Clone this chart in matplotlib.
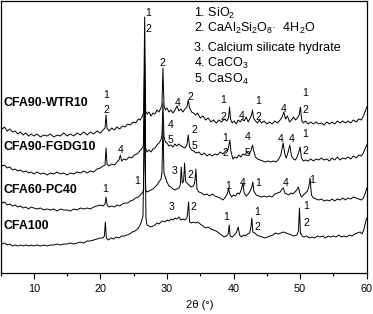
"""XRD patterns of the CFA blends, stacked with offsets."""

import matplotlib

matplotlib.use("Agg")
import matplotlib.pyplot as plt
from matplotlib.ticker import MultipleLocator

matplotlib.rcParams["font.family"] = ["Liberation Sans", "DejaVu Sans"]
matplotlib.rcParams["mathtext.fontset"] = "custom"
matplotlib.rcParams["mathtext.rm"] = "Liberation Sans"
matplotlib.rcParams["mathtext.it"] = "Liberation Sans:italic"

# 2theta (deg) and offset intensity (a.u.)
tt_wtr = [5.0, 5.3, 5.6, 6.0, 6.4, 6.8, 7.2, 7.6, 8.0, 8.4, 8.8, 9.2, 9.6, 10.0, 10.5, 11.0, 11.5, 12.0,
          12.5, 13.0, 13.5, 14.0, 14.5, 15.0, 15.5, 16.0, 16.5, 17.0, 17.5, 18.0, 18.5, 19.0, 19.5, 20.0,
          20.4, 20.7, 20.85, 21.0, 21.3, 21.7, 22.1, 22.5, 22.9, 23.3, 23.7, 24.1, 24.5, 24.9, 25.3, 25.7,
          26.0, 26.3, 26.5, 26.65, 26.8, 27.0, 27.3, 27.6, 27.9, 28.2, 28.5, 28.8, 29.1, 29.25, 29.4, 29.55,
          29.75, 30.0, 30.3, 30.6, 30.9, 31.2, 31.5, 31.8, 32.1, 32.4, 32.7, 33.0, 33.2, 33.4, 33.7, 34.0,
          34.3, 34.6, 35.0, 35.4, 35.8, 36.2, 36.6, 37.0, 37.4, 37.8, 38.2, 38.6, 39.0, 39.25, 39.4, 39.55,
          39.8, 40.1, 40.4, 40.7, 41.0, 41.3, 41.6, 41.9, 42.2, 42.5, 42.7, 42.85, 43.0, 43.3, 43.6, 43.9,
          44.2, 44.6, 45.0, 45.4, 45.8, 46.2, 46.6, 47.0, 47.3, 47.55, 47.8, 48.1, 48.4, 48.7, 49.0, 49.3,
          49.6, 49.85, 50.05, 50.25, 50.5, 50.8, 51.2, 51.6, 52.0, 52.4, 52.8, 53.2, 53.6, 54.0, 54.4, 54.8,
          55.2, 55.6, 56.0, 56.4, 56.8, 57.2, 57.6, 58.0, 58.4, 58.8, 59.2, 59.5, 59.8, 60.0]
i_wtr = [147, 144, 146, 142, 144, 141, 142, 139, 141, 138, 140, 137, 139, 137, 139, 136, 138, 137,
         139, 136, 138, 137, 140, 137, 139, 137, 140, 138, 141, 138, 141, 139, 142, 140,
         143, 145, 158, 145, 142, 145, 143, 146, 144, 147, 146, 149, 148, 151, 150, 154,
         153, 157, 160, 256, 162, 159, 161, 157, 160, 159, 163, 161, 165, 168, 205, 168,
         163, 165, 161, 163, 160, 163, 167, 162, 164, 161, 164, 166, 173, 165, 161, 160,
         158, 160, 155, 157, 153, 155, 151, 153, 150, 153, 151, 154, 152, 155, 166, 154,
         150, 152, 149, 153, 151, 154, 152, 156, 151, 155, 158, 163, 155, 152, 150, 153,
         150, 152, 149, 151, 149, 152, 150, 153, 156, 161, 154, 157, 151, 153, 156, 153,
         155, 158, 166, 152, 150, 152, 149, 151, 149, 151, 149, 150, 148, 151, 149, 151,
         149, 152, 150, 152, 150, 152, 150, 153, 151, 154, 153, 157, 162, 166]

tt_fgd = [5.0, 5.3, 5.6, 6.0, 6.4, 6.8, 7.2, 7.6, 8.0, 8.4, 8.8, 9.2, 9.6, 10.0, 10.5, 11.0, 11.5, 12.0,
          12.5, 13.0, 13.5, 14.0, 14.5, 15.0, 15.5, 16.0, 16.5, 17.0, 17.5, 18.0, 18.5, 19.0, 19.5, 20.0,
          20.4, 20.7, 20.85, 21.0, 21.3, 21.7, 22.1, 22.5, 22.8, 23.0, 23.2, 23.5, 23.9, 24.3, 24.7, 25.1,
          25.5, 25.9, 26.2, 26.45, 26.65, 26.8, 27.0, 27.3, 27.6, 27.9, 28.2, 28.5, 28.8, 29.1, 29.25, 29.4,
          29.55, 29.75, 30.0, 30.3, 30.6, 30.9, 31.2, 31.5, 31.8, 32.1, 32.4, 32.7, 33.0, 33.2, 33.4, 33.7,
          34.0, 34.4, 34.8, 35.2, 35.6, 36.0, 36.4, 36.8, 37.2, 37.6, 38.0, 38.4, 38.8, 39.2, 39.45, 39.6,
          39.9, 40.2, 40.5, 40.8, 41.1, 41.4, 41.7, 42.0, 42.3, 42.6, 42.85, 43.0, 43.3, 43.6, 44.0, 44.4,
          44.8, 45.2, 45.6, 46.0, 46.4, 46.8, 47.1, 47.45, 47.7, 47.9, 48.2, 48.45, 48.7, 49.0, 49.3, 49.6,
          49.85, 50.0, 50.2, 50.5, 50.8, 51.2, 51.6, 52.0, 52.4, 52.8, 53.2, 53.6, 54.0, 54.4, 54.8, 55.2,
          55.6, 56.0, 56.4, 56.8, 57.2, 57.6, 58.0, 58.4, 58.8, 59.2, 59.5, 59.8, 60.0]
i_fgd = [110, 107, 108, 105, 106, 103, 104, 102, 103, 101, 102, 100, 101, 99, 101, 99, 100, 98,
         100, 99, 101, 99, 100, 98, 100, 99, 101, 100, 102, 100, 102, 101, 104, 105,
         107, 108, 125, 109, 107, 109, 108, 111, 113, 118, 112, 114, 113, 116, 115, 118,
         119, 122, 124, 127, 210, 125, 121, 123, 121, 124, 125, 128, 130, 133, 138, 170,
         137, 131, 130, 127, 128, 126, 129, 127, 129, 127, 126, 125, 128, 138, 126, 123,
         122, 120, 121, 118, 120, 117, 119, 117, 119, 118, 121, 119, 122, 124, 133, 122,
         114, 116, 115, 118, 116, 119, 118, 121, 119, 122, 128, 123, 116, 114, 113, 112,
         111, 112, 111, 112, 111, 114, 118, 130, 119, 115, 121, 128, 117, 114, 113, 117,
         122, 126, 115, 112, 113, 112, 114, 112, 114, 113, 115, 113, 114, 112, 115, 113,
         116, 113, 115, 114, 116, 114, 117, 115, 118, 117, 120, 125, 128]

tt_pc = [5.0, 5.3, 5.6, 6.0, 6.4, 6.8, 7.2, 7.6, 8.0, 8.4, 8.8, 9.2, 9.6, 10.0, 10.5, 11.0, 11.5, 12.0,
         12.5, 13.0, 13.5, 14.0, 14.5, 15.0, 15.5, 16.0, 16.5, 17.0, 17.5, 18.0, 18.5, 19.0, 19.5, 20.0,
         20.4, 20.7, 20.85, 21.0, 21.3, 21.7, 22.1, 22.5, 22.9, 23.3, 23.7, 24.1, 24.5, 24.9, 25.3, 25.7,
         26.0, 26.3, 26.5, 26.65, 26.8, 27.0, 27.3, 27.6, 27.9, 28.2, 28.5, 28.8, 29.1, 29.25, 29.4, 29.55,
         29.75, 30.0, 30.3, 30.6, 30.9, 31.2, 31.5, 31.8, 32.0, 32.15, 32.3, 32.5, 32.65, 32.8, 33.0, 33.3,
         33.6, 34.0, 34.2, 34.35, 34.5, 34.8, 35.2, 35.6, 36.0, 36.4, 36.8, 37.2, 37.6, 38.0, 38.4, 38.8,
         39.1, 39.25, 39.4, 39.7, 40.0, 40.3, 40.6, 40.9, 41.2, 41.4, 41.6, 41.9, 42.2, 42.5, 42.75, 42.9,
         43.05, 43.4, 43.8, 44.2, 44.6, 45.0, 45.4, 45.8, 46.2, 46.6, 47.0, 47.3, 47.5, 47.7, 48.0, 48.3,
         48.6, 48.9, 49.2, 49.5, 49.75, 49.95, 50.2, 50.5, 50.8, 51.1, 51.3, 51.5, 51.7, 52.0, 52.4, 52.8,
         53.2, 53.6, 54.0, 54.4, 54.8, 55.2, 55.6, 56.0, 56.4, 56.8, 57.2, 57.6, 58.0, 58.4, 58.8, 59.2,
         59.5, 59.8, 60.0]
i_pc = [73, 70, 71, 68, 69, 67, 68, 66, 67, 65, 66, 64, 66, 65, 64, 65, 63, 64,
        63, 64, 62, 64, 63, 63, 62, 64, 63, 65, 64, 65, 64, 66, 67, 68,
        67, 69, 76, 68, 66, 67, 66, 68, 67, 69, 70, 70, 72, 73, 75, 76,
        78, 80, 83, 185, 83, 81, 82, 83, 84, 86, 88, 91, 94, 100, 150, 100,
        96, 91, 87, 86, 84, 83, 84, 85, 88, 106, 90, 92, 110, 92, 90, 88,
        86, 87, 92, 104, 84, 81, 80, 78, 79, 77, 79, 77, 76, 75, 73, 76,
        80, 85, 80, 76, 78, 77, 80, 79, 84, 90, 80, 77, 79, 82, 86, 91,
        82, 78, 77, 76, 77, 76, 77, 76, 79, 80, 81, 84, 85, 80, 79, 78,
        80, 79, 81, 83, 86, 80, 76, 78, 80, 82, 86, 95, 78, 75, 74, 73,
        74, 72, 73, 72, 74, 72, 74, 73, 75, 73, 75, 74, 76, 75, 74, 73,
        75, 80, 85]

tt_cfa = [5.0, 5.3, 5.6, 6.0, 6.4, 6.8, 7.2, 7.6, 8.0, 8.4, 8.8, 9.2, 9.6, 10.0, 10.5, 11.0, 11.5, 12.0,
          12.5, 13.0, 13.5, 14.0, 14.5, 15.0, 15.5, 16.0, 16.5, 17.0, 17.5, 18.0, 18.5, 19.0, 19.5, 20.0,
          20.4, 20.6, 20.75, 20.9, 21.2, 21.6, 22.0, 22.4, 22.8, 23.2, 23.6, 24.0, 24.4, 24.8, 25.2, 25.6,
          25.9, 26.2, 26.4, 26.65, 26.85, 27.0, 27.3, 27.6, 27.9, 28.2, 28.5, 28.8, 29.1, 29.4, 29.7, 30.0,
          30.3, 30.6, 30.9, 31.2, 31.5, 31.8, 32.1, 32.4, 32.7, 33.0, 33.1, 33.25, 33.4, 33.7, 34.0, 34.3,
          34.6, 35.0, 35.4, 35.8, 36.2, 36.6, 37.0, 37.4, 37.8, 38.2, 38.6, 38.9, 39.2, 39.35, 39.5, 39.8,
          40.1, 40.4, 40.7, 40.9, 41.2, 41.5, 41.8, 42.1, 42.4, 42.6, 42.75, 42.9, 43.2, 43.5, 43.9, 44.3,
          44.7, 45.1, 45.5, 45.9, 46.3, 46.7, 47.1, 47.5, 47.9, 48.3, 48.7, 49.1, 49.5, 49.75, 49.9, 50.05,
          50.3, 50.6, 51.0, 51.4, 51.8, 52.2, 52.6, 53.0, 53.4, 53.8, 54.2, 54.6, 55.0, 55.4, 55.8, 56.2,
          56.6, 57.0, 57.4, 57.8, 58.2, 58.6, 59.0, 59.3, 59.6, 59.8, 60.0]
i_cfa = [31, 29, 30, 28, 29, 27, 28, 27, 28, 27, 28, 27, 28, 27, 28, 27, 28, 27,
         28, 28, 29, 28, 29, 29, 30, 29, 30, 31, 30, 32, 32, 33, 34, 35,
         35, 37, 51, 35, 33, 35, 34, 36, 35, 37, 37, 38, 39, 41, 42, 44,
         47, 52, 57, 160, 55, 48, 47, 46, 47, 48, 50, 49, 51, 52, 51, 53,
         52, 54, 53, 55, 54, 56, 53, 54, 53, 55, 60, 71, 51, 50, 51, 50,
         51, 49, 47, 45, 46, 44, 43, 42, 40, 38, 36, 37, 39, 48, 37, 36,
         38, 40, 46, 38, 36, 38, 37, 39, 40, 45, 55, 41, 40, 38, 37, 36,
         35, 36, 37, 38, 40, 39, 40, 41, 40, 39, 38, 37, 38, 42, 65, 40,
         37, 36, 37, 35, 36, 35, 37, 36, 37, 35, 37, 36, 37, 36, 38, 36,
         37, 36, 38, 37, 39, 40, 41, 39, 44, 50, 55]

sample_names = ["CFA90-WTR10", "CFA90-FGDG10", "CFA60-PC40", "CFA100"]
sample_label_y = [170, 126, 83, 47]

phase_legend = ["1. SiO$_2$", "2. CaAl$_2$Si$_2$O$_8$\u00b7  4H$_2$O", "3. Calcium silicate hydrate",
                "4. CaCO$_3$", "5. CaSO$_4$"]

# phase numbers above peaks: (text, 2theta, intensity)
peak_marks = [
    ("1", 20.85, 178), ("2", 20.85, 163), ("1", 27.2, 260), ("2", 27.2, 244), ("2", 29.3, 210),
    ("4", 31.55, 170), ("2", 33.5, 176), ("1", 38.5, 173), ("2", 38.5, 156), ("4", 41.15, 157),
    ("1", 43.7, 172), ("2", 43.7, 156), ("4", 47.5, 164), ("1", 50.75, 180), ("2", 50.75, 163),
    ("4", 23.1, 123), ("4", 30.5, 148), ("5", 30.5, 133), ("2", 34.15, 143), ("5", 34.15, 127),
    ("1", 38.75, 135), ("2", 38.75, 120), ("4", 42.15, 136), ("5", 42.15, 120), ("4", 47.1, 134),
    ("4", 48.7, 134), ("1", 50.8, 139), ("2", 50.75, 122),
    ("1", 20.75, 84), ("1", 25.5, 92), ("3", 31.1, 102), ("2", 33.5, 98), ("1", 39.25, 87),
    ("4", 41.4, 90), ("1", 43.65, 90), ("4", 47.8, 90), ("1", 51.75, 93),
    ("3", 30.75, 66), ("2", 33.9, 66), ("1", 38.9, 56), ("1", 43.6, 61), ("2", 43.6, 46),
    ("1", 50.9, 67), ("2", 50.9, 50),
]

fig = plt.figure(figsize=(3.73, 3.14), dpi=100)
ax = fig.add_axes([0.5 / 373, 41 / 314, 366.2 / 373, 272.5 / 314])

for tt, inten in [(tt_wtr, i_wtr), (tt_fgd, i_fgd), (tt_pc, i_pc), (tt_cfa, i_cfa)]:
    ax.plot(tt, inten, color="black", linewidth=0.7)

for name, yy in zip(sample_names, sample_label_y):
    ax.text(5.45, yy, name, fontsize=8.9, fontweight="bold", ha="left", va="center")

for k, line in enumerate(phase_legend):
    ax.text(34.1, 260 - 15.5 * k - (4 if k >= 2 else 0), line, fontsize=9.0, ha="left", va="center")

for txt, xx, yy in peak_marks:
    ax.text(xx, yy, txt, fontsize=7.5, ha="center", va="center")

ax.set_xlim(5, 60)
ax.set_ylim(0, 272.5)
ax.xaxis.set_major_locator(MultipleLocator(10))
ax.xaxis.set_minor_locator(MultipleLocator(5))
ax.tick_params(axis="x", which="major", direction="out", length=4, width=0.8, labelsize=7.8, pad=4)
ax.tick_params(axis="x", which="minor", direction="out", length=2.5, width=0.8)
ax.set_yticks([])
for spine in ax.spines.values():
    spine.set_linewidth(0.9)

fig.text(200 / 373, 9 / 314, "2\u03b8 (\u00b0)", fontsize=8, ha="center", va="center")

fig.savefig("out.png", dpi=100)
